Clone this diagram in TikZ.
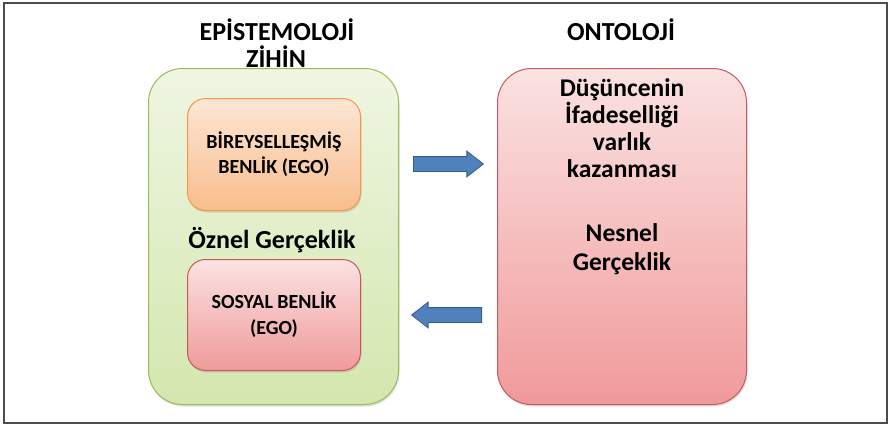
\documentclass[tikz,border=0pt]{standalone}
\usepackage{fontspec}
\setmainfont{Carlito}
\usetikzlibrary{shapes.arrows,shadows}
\definecolor{grnT}{HTML}{EFF6E2}
\definecolor{grnB}{HTML}{D3E7AE}
\definecolor{grnD}{HTML}{9BBB59}
\definecolor{orgT}{HTML}{FDE6D5}
\definecolor{orgB}{HTML}{F9BD8C}
\definecolor{orgD}{HTML}{F79646}
\definecolor{redT}{HTML}{FBE2E2}
\definecolor{redB}{HTML}{F09A9A}
\definecolor{redD}{HTML}{C8585A}
\definecolor{arrF}{HTML}{4F81BD}
\definecolor{arrD}{HTML}{385D8A}
\tikzset{
  x=1pt, y=-1pt,
  boxbase/.style={draw, line width=1pt, anchor=north west, inner sep=0pt,
    drop shadow={opacity=0.25, shadow xshift=1pt, shadow yshift=-2pt}},
  bigbox/.style={boxbase, rounded corners=34pt},
  smallbox/.style={boxbase, rounded corners=18pt},
  txt/.style={text=black, align=center, inner sep=0pt},
  blockarrow/.style={single arrow, draw=arrD, fill=arrF, line width=0.8pt,
    minimum height=70pt, minimum width=25pt, single arrow head extend=5.5pt,
    single arrow tip angle=76, inner xsep=0pt, inner ysep=7pt, anchor=tail},
}
\begin{document}
\begin{tikzpicture}
\useasboundingbox (0,0) rectangle (890,426);
\draw[line width=1.2pt, draw=black!70] (4,3) rectangle (887,423);

% left big box
\node[bigbox, draw=grnD, top color=grnT, bottom color=grnB,
  minimum width=250pt, minimum height=336pt] (zihin) at (148,68) {};
% right big box
\node[bigbox, draw=redD, top color=redT, bottom color=redB,
  minimum width=249pt, minimum height=336pt] (onto) at (497,68) {};
% small boxes
\node[smallbox, draw=orgD, top color=orgT, bottom color=orgB,
  minimum width=173pt, minimum height=112pt] (ego1) at (187,98) {};
\node[smallbox, draw=redD, top color=redT, bottom color=redB,
  minimum width=173pt, minimum height=111pt] (ego2) at (187,259) {};

% titles
\node[txt, font=\fontsize{26}{30}\bfseries\selectfont] (t1) at (277,30) {EPİSTEMOLOJİ};
\node[txt, font=\fontsize{26}{30}\bfseries\selectfont] (t2) at (276,57) {ZİHİN};
\node[txt, font=\fontsize{26}{30}\bfseries\selectfont] (t3) at (621,30) {ONTOLOJİ};

% left content
\node[txt, font=\fontsize{20}{25}\bfseries\selectfont] (e1) at (ego1.center) {BİREYSELLEŞMİŞ\\BENLİK (EGO)};
\node[txt, font=\fontsize{20}{26}\bfseries\selectfont] (e2) at (ego2.center) {SOSYAL BENLİK\\(EGO)};
\node[txt, font=\fontsize{26}{30}\bfseries\selectfont] (oz) at (272,240) {Öznel Gerçeklik};

% right content
\node[txt, font=\fontsize{25.5}{27.3}\bfseries\selectfont, anchor=north] (r1) at (622,78) {Düşüncenin\\İfadeselliği\\varlık\\kazanması};
\node[txt, font=\fontsize{25.5}{29}\bfseries\selectfont, anchor=north] (r2) at (622,223) {Nesnel\\Gerçeklik};

% arrows
\node[blockarrow] (a1) at (413,164) {};
\node[blockarrow, shape border rotate=180] (a2) at (482,315) {};
\end{tikzpicture}
\end{document}
